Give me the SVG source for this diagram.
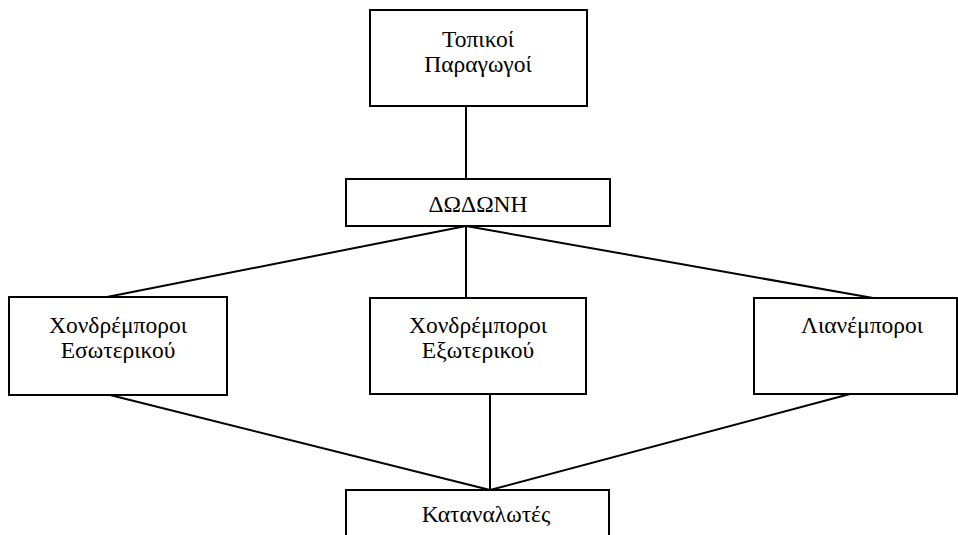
<svg xmlns="http://www.w3.org/2000/svg" width="958" height="535" viewBox="0 0 958 535">
<style>
.box{fill:#fff;stroke:#000;stroke-width:2}
.ln{stroke:#000;stroke-width:2;fill:none}
text{font-family:"Liberation Serif","DejaVu Serif",serif;font-size:23.5px;fill:#000;text-anchor:middle}
</style>
<rect width="958" height="535" fill="#fff"/>
<g id="connectors">
<line class="ln" x1="466" y1="106" x2="466" y2="179"/>
<line class="ln" x1="466" y1="226" x2="107" y2="297"/>
<line class="ln" x1="466" y1="226" x2="466" y2="298"/>
<line class="ln" x1="466" y1="226" x2="873" y2="298"/>
<line class="ln" x1="110" y1="395" x2="490" y2="490"/>
<line class="ln" x1="490" y1="394" x2="490" y2="490"/>
<line class="ln" x1="850" y1="394" x2="490" y2="490"/>
</g>
<g id="topikoi">
<rect class="box" x="370" y="10" width="217" height="96"/>
<text x="478" y="47">Τοπικοί</text>
<text x="478" y="72">Παραγωγοί</text>
</g>
<g id="dodoni">
<rect class="box" x="346" y="179" width="264" height="47"/>
<text x="478" y="212">ΔΩΔΩΝΗ</text>
</g>
<g id="xondr-esot">
<rect class="box" x="9" y="297" width="218" height="98"/>
<text x="118" y="333">Χονδρέμποροι</text>
<text x="118" y="358">Εσωτερικού</text>
</g>
<g id="xondr-exot">
<rect class="box" x="370" y="298" width="216" height="96"/>
<text x="478" y="333">Χονδρέμποροι</text>
<text x="478" y="358">Εξωτερικού</text>
</g>
<g id="lianemporoi">
<rect class="box" x="754" y="298" width="203" height="96"/>
<text x="862" y="333">Λιανέμποροι</text>
</g>
<g id="katanalotes">
<rect class="box" x="346" y="490" width="263" height="60"/>
<text x="486" y="522">Καταναλωτές</text>
</g>
</svg>
